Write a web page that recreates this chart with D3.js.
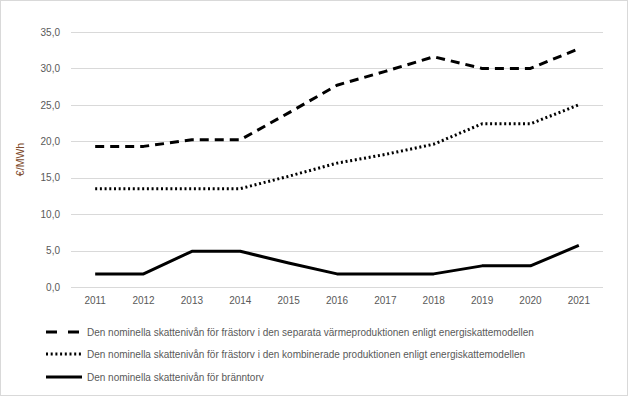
<!DOCTYPE html>
<html>
<head>
<meta charset="utf-8">
<script src="https://cdn.jsdelivr.net/npm/d3@7"></script>
<style>
  body { margin: 0; background: #fff; }
  svg { display: block; font-family: "Liberation Sans", Arial, sans-serif; }
</style>
</head>
<body>
<svg id="chart" width="628" height="396"></svg>
<script>
// data
const years = ["2011", "2012", "2013", "2014", "2015", "2016", "2017", "2018", "2019", "2020", "2021"];
const separataValues = [19.3, 19.3, 20.2, 20.2, 23.9, 27.7, 29.6, 31.6, 30.0, 30.0, 32.7];
const kombineradeValues = [13.5, 13.5, 13.5, 13.5, 15.2, 17.0, 18.2, 19.6, 22.4, 22.4, 25.0];
const branntorvValues = [1.8, 1.8, 4.9, 4.9, 3.3, 1.8, 1.8, 1.8, 2.9, 2.9, 5.7];
const yTicks = [0, 5, 10, 15, 20, 25, 30, 35];
const seriesNames = [
  "Den nominella skattenivån för frästorv i den separata värmeproduktionen enligt energiskattemodellen",
  "Den nominella skattenivån för frästorv i den kombinerade produktionen enligt energiskattemodellen",
  "Den nominella skattenivån för bränntorv"
];

const series = [
  { name: seriesNames[0], values: separataValues, dash: "9,6", cap: "butt" },
  { name: seriesNames[1], values: kombineradeValues, dash: "2,2.7", cap: "butt" },
  { name: seriesNames[2], values: branntorvValues, dash: null, cap: "butt" }
];

const svg = d3.select("#chart");
const W = 628, H = 396;
const plot = { left: 71, right: 603, top: 32, bottom: 287 };

// outer border
svg.append("rect")
  .attr("x", 0.5).attr("y", 0.5)
  .attr("width", W - 1).attr("height", H - 1)
  .attr("fill", "#fff")
  .attr("stroke", "#d9d9d9");

const x = d3.scaleBand().domain(years).range([plot.left, plot.right]);
const y = d3.scaleLinear().domain([0, 35]).range([plot.bottom, plot.top]);

// gridlines
svg.append("g")
  .selectAll("line")
  .data(yTicks)
  .join("line")
  .attr("x1", plot.left).attr("x2", plot.right)
  .attr("y1", d => Math.round(y(d)) + 0.5)
  .attr("y2", d => Math.round(y(d)) + 0.5)
  .attr("stroke", "#d9d9d9")
  .attr("stroke-width", 1);

// y axis labels
const yAxis = svg.append("g")
  .attr("transform", `translate(${plot.left - 11},0)`)
  .call(d3.axisLeft(y).tickValues(yTicks).tickSize(0).tickPadding(0)
    .tickFormat(d => d3.format(".1f")(d).replace(".", ",")));
yAxis.select(".domain").remove();
yAxis.selectAll("text")
  .attr("fill", "#595959")
  .style("font-size", "10px");

// x axis labels
const xAxis = svg.append("g")
  .attr("transform", `translate(0,${plot.bottom})`)
  .call(d3.axisBottom(x).tickSize(0).tickPadding(10));
xAxis.select(".domain").remove();
xAxis.selectAll("text")
  .attr("fill", "#595959")
  .style("font-size", "10px");

// y title
svg.append("text")
  .attr("transform", `translate(24,${(plot.top + plot.bottom) / 2}) rotate(-90)`)
  .attr("text-anchor", "middle")
  .attr("fill", "#7d4a2b")
  .style("font-size", "10.5px")
  .text("€/MWh");

// lines
const line = d3.line()
  .x((d, i) => x(years[i]) + x.bandwidth() / 2)
  .y(d => y(d));

svg.append("g")
  .selectAll("path")
  .data(series)
  .join("path")
  .attr("d", d => line(d.values))
  .attr("fill", "none")
  .attr("stroke", "#000")
  .attr("stroke-width", 3)
  .attr("stroke-linejoin", "round")
  .attr("stroke-linecap", d => d.cap)
  .attr("stroke-dasharray", d => d.dash);

// legend
const legendRows = [332, 354, 377];
const legend = svg.append("g")
  .selectAll("g")
  .data(series)
  .join("g")
  .attr("transform", (d, i) => `translate(0,${legendRows[i]})`);

legend.append("line")
  .attr("x1", 46).attr("x2", 82)
  .attr("y1", 0).attr("y2", 0)
  .attr("stroke", "#000")
  .attr("stroke-width", 3)
  .attr("stroke-dasharray", (d, i) => i === 0 ? "11,11" : d.dash);

legend.append("text")
  .attr("x", 87)
  .attr("y", 0)
  .attr("dy", "0.35em")
  .attr("fill", "#595959")
  .style("font-size", "10px")
  .text(d => d.name);
</script>
</body>
</html>
